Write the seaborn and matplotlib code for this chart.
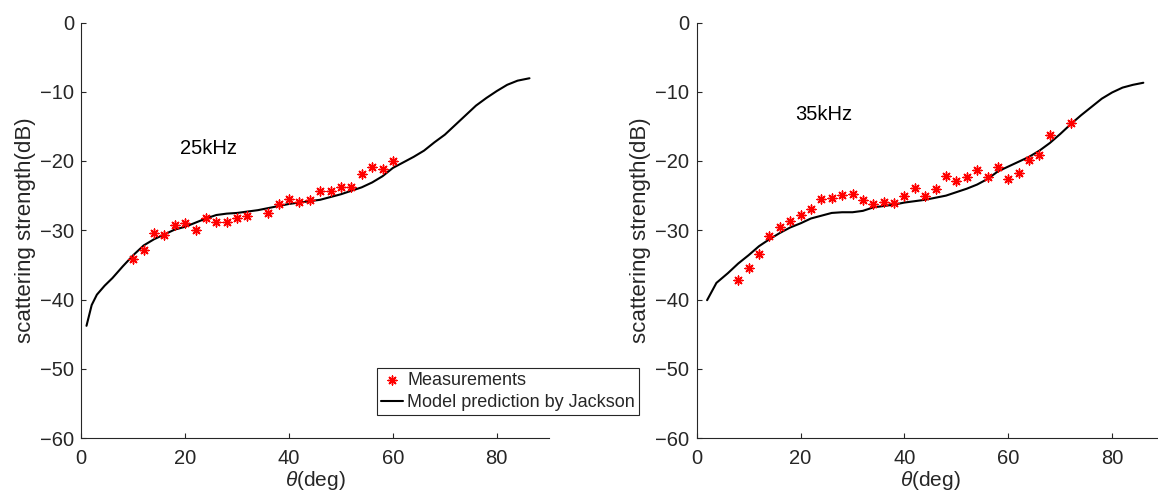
import numpy as np
import pandas as pd
import seaborn as sns
import matplotlib.pyplot as plt

# measured points, 25 kHz
meas25_theta = [10, 12, 14, 16, 18, 20, 22, 24, 26, 28, 30, 32, 36, 38, 40, 42,
                44, 46, 48, 50, 52, 54, 56, 58, 60]
meas25_ss = [-34.2, -32.9, -30.4, -30.7, -29.3, -29.0, -30.0, -28.3, -28.75, -28.75,
             -28.3, -27.9, -27.5, -26.2, -25.5, -25.9, -25.7, -24.3, -24.3, -23.75,
             -23.7, -21.9, -20.8, -21.1, -19.95]

# Jackson model, 25 kHz
model25_theta = [1, 2, 3, 4.5, 6, 8, 10, 12, 14, 16, 18, 20, 22, 24, 26, 28, 30, 32,
                 34, 36, 38, 40, 42, 44, 46, 48, 50, 52, 54, 56, 58, 60, 62, 64, 66,
                 68, 70, 72, 74, 76, 78, 80, 82, 84, 86.3]
model25_ss = [-43.8, -40.8, -39.3, -38.0, -36.9, -35.2, -33.6, -32.2, -31.3, -30.6,
              -29.9, -29.5, -28.9, -28.3, -27.8, -27.6, -27.5, -27.3, -27.1, -26.8,
              -26.5, -26.2, -26.0, -25.8, -25.6, -25.2, -24.8, -24.3, -23.8, -23.1,
              -22.2, -21.0, -20.2, -19.4, -18.5, -17.3, -16.2, -14.8, -13.4, -12.0,
              -10.9, -9.9, -9.0, -8.4, -8.05]

# measured points, 35 kHz
meas35_theta = [8, 10, 12, 14, 16, 18, 20, 22, 24, 26, 28, 30, 32, 34, 36, 38, 40,
                42, 44, 46, 48, 50, 52, 54, 56, 58, 60, 62, 64, 66, 68, 72]
meas35_ss = [-37.2, -35.4, -33.5, -30.9, -29.6, -28.6, -27.8, -26.9, -25.5, -25.3,
             -24.9, -24.8, -25.7, -26.2, -25.9, -26.1, -25.0, -23.9, -25.0, -24.1,
             -22.1, -22.9, -22.3, -21.25, -22.3, -20.9, -22.6, -21.7, -19.9, -19.2,
             -16.25, -14.5]

# Jackson model, 35 kHz
model35_theta = [2, 3.8, 6, 8, 10, 12, 14, 16, 18, 20, 22, 24, 26, 28, 30, 32, 34,
                 36, 38, 40, 42, 44, 46, 48, 50, 52, 54, 56, 58, 60, 62, 64, 66, 68,
                 70, 72, 74, 76, 78, 80, 82, 84, 86]
model35_ss = [-40.1, -37.6, -36.2, -34.8, -33.6, -32.3, -31.3, -30.4, -29.6, -29.0,
              -28.3, -27.9, -27.5, -27.4, -27.4, -27.2, -26.7, -26.5, -26.3, -26.0,
              -25.8, -25.6, -25.3, -25.0, -24.5, -24.0, -23.4, -22.6, -21.5, -20.8,
              -20.1, -19.4, -18.5, -17.4, -16.1, -14.7, -13.4, -12.2, -11.0, -10.1,
              -9.4, -9.0, -8.7]

panel_labels = ["25kHz", "35kHz"]
label_pos = [(24.4, -18.2), (24.4, -13.3)]

sns.set_theme(style="ticks")
plt.rcParams['font.family'] = ['Liberation Sans', 'DejaVu Sans']
plt.rcParams['mathtext.fontset'] = 'custom'
plt.rcParams['mathtext.it'] = 'Liberation Sans:italic'
plt.rcParams['mathtext.rm'] = 'Liberation Sans'

ink = "#262626"
asterisk = (8, 2, 0)

'''
One panel: red measurement asterisks plus the black model curve
'''
def draw_panel(ax, m_theta, m_ss, l_theta, l_ss, label, pos):
    meas = pd.DataFrame({"theta": m_theta, "ss": m_ss})
    model = pd.DataFrame({"theta": l_theta, "ss": l_ss})
    sns.scatterplot(data=meas, x="theta", y="ss", ax=ax, marker=asterisk,
                    color="red", s=40, linewidth=1.05, label="Measurements", zorder=3)
    sns.lineplot(data=model, x="theta", y="ss", ax=ax, color="black", lw=1.5,
                 label="Model prediction by Jackson", zorder=2)
    ax.set_xlim(0, 90)
    ax.set_ylim(-60, 0)
    ax.set_xticks([0, 20, 40, 60, 80])
    ax.set_yticks([0, -10, -20, -30, -40, -50, -60])
    ax.tick_params(direction="in", length=3.5, width=0.8, labelsize=14.5,
                   colors=ink)
    ax.tick_params(axis="x", pad=8)
    ax.tick_params(axis="y", pad=5.3)
    for s in ["top", "right"]:
        ax.spines[s].set_visible(False)
    for s in ["left", "bottom"]:
        ax.spines[s].set_color(ink)
        ax.spines[s].set_linewidth(0.8)
    ax.set_xlabel(r"$\theta$(deg)", fontsize=15, color=ink, labelpad=0.3)
    ax.set_ylabel("scattering strength(dB)", fontsize=16, color=ink, labelpad=3)
    ax.text(pos[0], pos[1], label, ha="center", va="center", fontsize=14.5,
            color="black")


fig = plt.figure(figsize=(11.58, 4.91), dpi=100)
ax1 = fig.add_axes([81.3 / 1158, 53 / 491, 467.4 / 1158, 415.5 / 491])
ax2 = fig.add_axes([696.7 / 1158, 53 / 491, 467.4 / 1158, 415.5 / 491])

draw_panel(ax1, meas25_theta, meas25_ss, model25_theta, model25_ss,
           panel_labels[0], label_pos[0])
draw_panel(ax2, meas35_theta, meas35_ss, model35_theta, model35_ss,
           panel_labels[1], label_pos[1])

ax2.get_legend().remove()
handles, labels = ax1.get_legend_handles_labels()
ax1.get_legend().remove()
leg = ax1.legend(handles, labels, loc="upper left",
                 bbox_to_anchor=(377.3 / 1158, 1 - 367.7 / 491),
                 bbox_transform=fig.transFigure, fontsize=13,
                 frameon=True, fancybox=False, framealpha=1, edgecolor=ink,
                 borderpad=0.22, labelspacing=0.3, handlelength=1.2,
                 handletextpad=0.25, borderaxespad=0)
leg.get_frame().set_linewidth(0.8)

fig.savefig("out.png", dpi=100)
